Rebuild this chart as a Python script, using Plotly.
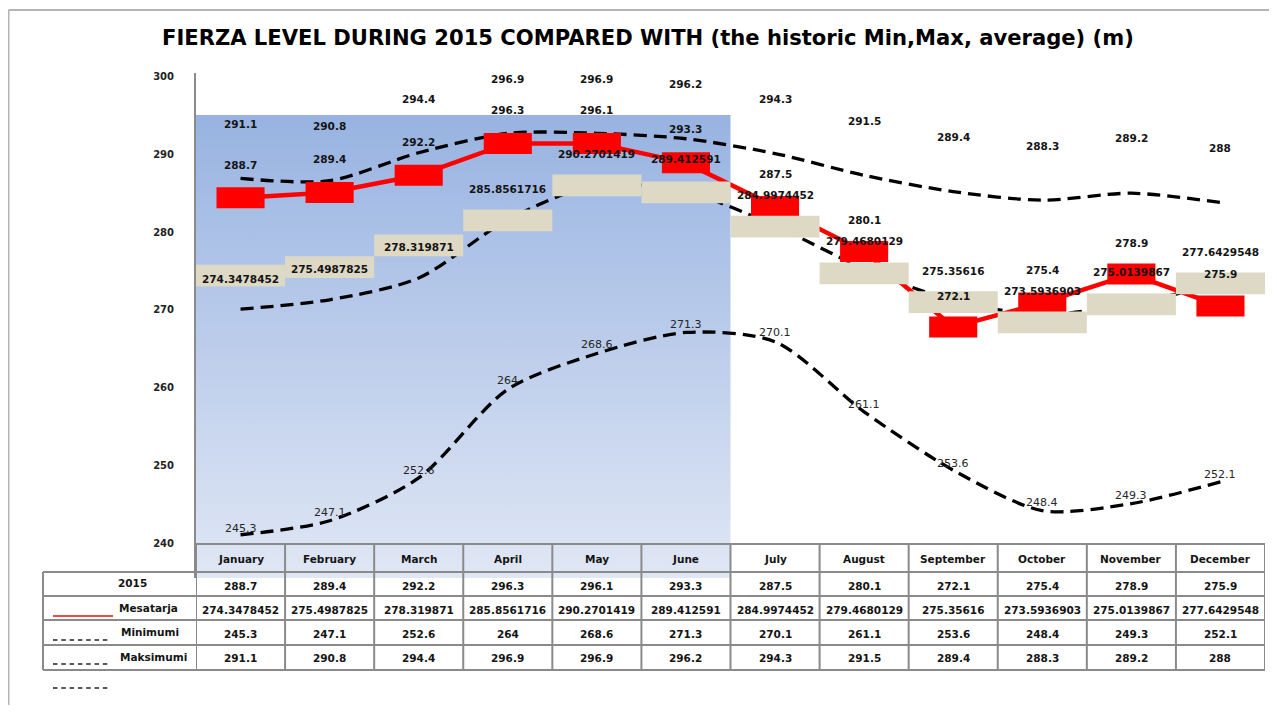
import plotly.graph_objects as go

# ---------------- data ----------------
months = ["January", "February", "March", "April", "May", "June",
          "July", "August", "September", "October", "November", "December"]

# values printed in the data table
val_2015 = [288.7, 289.4, 292.2, 296.3, 296.1, 293.3, 287.5, 280.1, 272.1, 275.4, 278.9, 275.9]
val_mesatarja = [274.3478452, 275.4987825, 278.319871, 285.8561716, 290.2701419, 289.412591,
                 284.9974452, 279.4680129, 275.35616, 273.5936903, 275.0139867, 277.6429548]
val_minimumi = [245.3, 247.1, 252.6, 264, 268.6, 271.3, 270.1, 261.1, 253.6, 248.4, 249.3, 252.1]
val_maksimumi = [291.1, 290.8, 294.4, 296.9, 296.9, 296.2, 294.3, 291.5, 289.4, 288.3, 289.2, 288]

# where the drawn series sit on the value axis (as they appear in the picture)
drawn_2015 = [284.4, 285.1, 287.3, 291.4, 291.4, 288.9, 283.3, 277.5, 267.8, 270.9, 274.6, 270.5]
drawn_mesatarja = [270.1, 271.3, 274.1, 281.6, 286.1, 285.2, 280.8, 275.3, 271.2, 269.4, 270.8, 273.4]
drawn_minimumi = [241.1, 242.9, 248.4, 259.8, 264.4, 267.1, 265.9, 256.9, 249.4, 244.2, 245.1, 247.9]
drawn_maksimumi = [286.9, 286.6, 290.2, 292.7, 292.7, 292.0, 290.1, 287.3, 285.2, 284.1, 285.0, 283.8]
# filled label boxes of the average series
drawn_box_mesatarja = [274.4, 275.5, 278.3, 281.5, 286.0, 285.1, 280.7, 274.7, 271.0, 268.4, 270.7, 273.4]

# data-label placements (value-axis units)
lbl_pos_2015 = [288.6, 289.4, 291.6, 295.7, 295.7, 293.2, 287.5, 281.6, 271.8, 275.1, 278.6, 274.6]
lbl_pos_mesatarja = [274.0, 275.2, 278.1, 285.6, 290.1, 289.4, 284.8, 278.8, 275.0, 272.4, 274.9, 277.4]
lbl_pos_minimumi = [241.9, 243.9, 249.3, 260.9, 265.5, 268.1, 267.1, 257.9, 250.3, 245.2, 246.2, 248.8]
lbl_pos_maksimumi = [293.9, 293.6, 297.1, 299.7, 299.7, 299.0, 297.1, 294.3, 292.2, 291.1, 292.1, 290.8]

row_names = ["2015", "Mesatarja", "Minimumi", "Maksimumi"]
y_ticks = [240, 250, 260, 270, 280, 290, 300]
shade_months = ("January", "June")
shade_top = 295.05

title_text = "FIERZA LEVEL DURING 2015 COMPARED WITH (the historic Min,Max, average) (m)"

# ---------------- layout helpers ----------------
W, H, OFF = 1261, 697, 8          # figure size; page body margin offset
PLOT_L, PLOT_R, PLOT_T, PLOT_B = 196, 1265, 73, 578
Y_MIN, Y_MAX = 235.54, 300.45


def px(X):
    # screen pixel -> paper x (paper spans the plot area)
    return (X - PLOT_L) / (PLOT_R - PLOT_L)


def py(Y):
    return (PLOT_B - Y) / (PLOT_B - PLOT_T)


def fmt(v):
    return "%.10g" % v


idx = list(range(len(months)))
FONT = "DejaVu Sans"
TXT = "#141414"

fig = go.Figure()

# shaded Jan-June background (vertical gradient)
s0 = months.index(shade_months[0]) - 0.5
s1 = months.index(shade_months[1]) + 0.5
fig.add_trace(go.Scatter(
    x=[s0, s1, s1, s0, s0], y=[shade_top, shade_top, Y_MIN, Y_MIN, shade_top],
    mode="none", fill="toself",
    fillgradient=dict(type="vertical",
                      colorscale=[[0, "#E0E7F5"], [1, "#98B3E1"]]),
    hoverinfo="skip", showlegend=False))

dash_style = dict(color="black", width=3.3, dash="13px,7px", shape="spline", smoothing=0.8)
for series in (drawn_maksimumi, drawn_mesatarja, drawn_minimumi):
    fig.add_trace(go.Scatter(x=idx, y=series, mode="lines", line=dash_style,
                             hoverinfo="skip", showlegend=False))

fig.add_trace(go.Scatter(x=idx, y=drawn_2015, mode="lines",
                         line=dict(color="#FF0000", width=4.5),
                         hoverinfo="skip", showlegend=False))

shapes = []
# red marker boxes of the 2015 series
RED_HW, RED_HH = 0.27, 1.35
for i, v in zip(idx, drawn_2015):
    shapes.append(dict(type="rect", xref="x", yref="y", x0=i - RED_HW, x1=i + RED_HW,
                       y0=v - RED_HH, y1=v + RED_HH, fillcolor="#FF0000",
                       line=dict(width=0), layer="above"))
# beige label boxes
BOX_HW, BOX_HH = 0.5, 1.4
for i, v in zip(idx, drawn_box_mesatarja):
    shapes.append(dict(type="rect", xref="x", yref="y", x0=i - BOX_HW, x1=i + BOX_HW,
                       y0=v - BOX_HH, y1=v + BOX_HH, fillcolor="#DDD9C4",
                       line=dict(width=0), layer="above"))

# ---------------- data table ----------------
GRID = dict(color="#8A8A8A", width=2)
HEADER_TOP = 544
ROW_LINES = [572, 596, 620, 645, 670]
TABLE_L = 43
shapes.append(dict(type="line", xref="x", yref="paper", x0=-0.5, x1=11.5,
                   y0=py(HEADER_TOP), y1=py(HEADER_TOP), line=GRID, layer="above"))
for Y in ROW_LINES:
    shapes.append(dict(type="line", xref="paper", yref="paper", x0=px(TABLE_L), x1=px(PLOT_R),
                       y0=py(Y), y1=py(Y), line=GRID, layer="above"))
shapes.append(dict(type="line", xref="paper", yref="paper", x0=px(TABLE_L), x1=px(TABLE_L),
                   y0=py(ROW_LINES[0]), y1=py(ROW_LINES[-1]), line=GRID, layer="above"))
for k in range(len(months) + 1):
    shapes.append(dict(type="line", xref="x", yref="paper", x0=k - 0.5, x1=k - 0.5,
                       y0=py(HEADER_TOP), y1=py(ROW_LINES[-1]), line=GRID, layer="above"))

# legend keys in the table
KEY_L, KEY_R = 53, 113
shapes.append(dict(type="line", xref="paper", yref="paper", x0=px(KEY_L), x1=px(KEY_R),
                   y0=py(616), y1=py(616), line=dict(color="#F04848", width=2), layer="above"))
for Y in (640, 664, 688):
    shapes.append(dict(type="line", xref="paper", yref="paper", x0=px(KEY_L), x1=px(KEY_R - 3),
                       y0=py(Y), y1=py(Y),
                       line=dict(color="#222222", width=1.6, dash="4.5px,3.8px"), layer="above"))

# outer frame
FRAME = dict(color="#B4B4B4", width=2)
shapes.append(dict(type="line", xref="paper", yref="paper", x0=px(8.5), x1=px(1277),
                   y0=py(10), y1=py(10), line=FRAME, layer="above"))
shapes.append(dict(type="line", xref="paper", yref="paper", x0=px(8.5), x1=px(8.5),
                   y0=py(10), y1=py(713), line=FRAME, layer="above"))

annotations = []


def label(x, y, text, size=10.5, bold=True, color=TXT, xref="x", yref="y", xanchor="center"):
    annotations.append(dict(x=x, y=y, xref=xref, yref=yref, text=text, showarrow=False,
                            xanchor=xanchor, yanchor="middle",
                            font=dict(family=FONT, size=size, color=color,
                                      weight="bold" if bold else "normal")))


# data labels
for i in idx:
    label(i, lbl_pos_maksimumi[i], fmt(val_maksimumi[i]))
    label(i, lbl_pos_2015[i], fmt(val_2015[i]))
    label(i, lbl_pos_mesatarja[i], fmt(val_mesatarja[i]))
    label(i, lbl_pos_minimumi[i], fmt(val_minimumi[i]), size=11, bold=False, color="#262626")

# table text
for i, m in enumerate(months):
    label(i, py(559), m, yref="paper")
table_rows = [val_2015, val_mesatarja, val_minimumi, val_maksimumi]
row_text_Y = [586, 610, 634, 658]
for vals, Y in zip(table_rows, row_text_Y):
    for i, v in enumerate(vals):
        label(i, py(Y), fmt(v), yref="paper")
row_name_X = [132, 148, 150, 153]
row_name_Y = [583, 608, 632, 657]
for name, X, Y in zip(row_names, row_name_X, row_name_Y):
    label(px(X), py(Y), name, xref="paper", yref="paper")

# title
label(px(648), py(38), title_text, size=21.1, xref="paper", yref="paper", color="#000000")

fig.update_layout(
    width=W, height=H, autosize=False,
    margin=dict(l=PLOT_L - OFF, r=W - (PLOT_R - OFF), t=PLOT_T - OFF, b=H - (PLOT_B - OFF), pad=0),
    paper_bgcolor="white", plot_bgcolor="white",
    showlegend=False,
    shapes=shapes, annotations=annotations,
    xaxis=dict(range=[-0.5, 11.5], showgrid=False, zeroline=False, showline=False,
               showticklabels=False, ticks="", fixedrange=True),
    yaxis=dict(range=[Y_MIN, Y_MAX], tickvals=y_ticks, ticktext=[str(t) for t in y_ticks],
               showgrid=False, zeroline=False, showline=True, linecolor="#8A8A8A", linewidth=2,
               ticks="", ticklabelstandoff=18,
               tickfont=dict(family=FONT, size=10, color="#222222", weight="bold"),
               fixedrange=True),
)

fig.write_html("out.html")
